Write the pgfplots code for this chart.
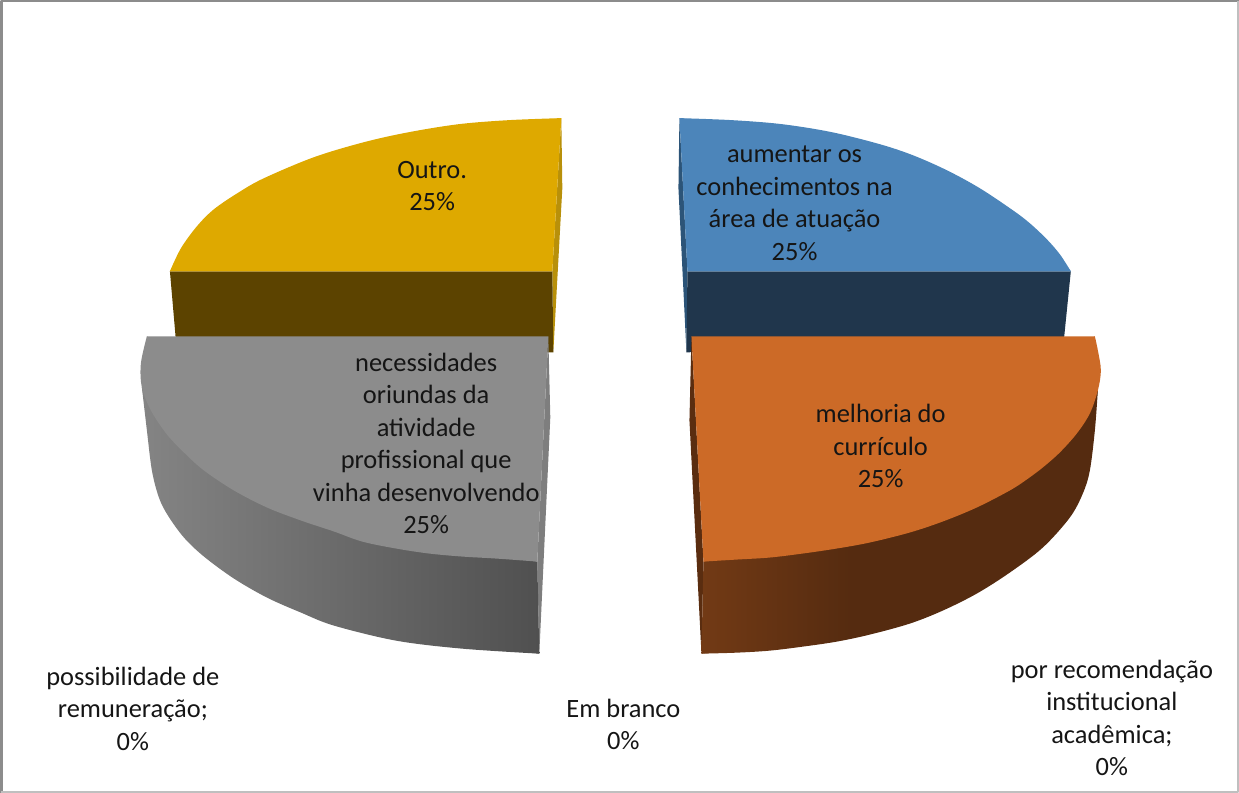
\documentclass[border=0pt]{standalone}
\usepackage{fontspec}
\setmainfont{Carlito}
\usepackage{pgfplots}
\pgfplotsset{compat=1.18}
\definecolor{goldT}{HTML}{DEA900}
\definecolor{goldS}{HTML}{5C4300}
\definecolor{goldI}{HTML}{B8900A}
\definecolor{blueT}{HTML}{4C85BA}
\definecolor{blueS}{HTML}{20364C}
\definecolor{blueI}{HTML}{2C5478}
\definecolor{greyT}{HTML}{8C8C8C}
\definecolor{greyI}{HTML}{7E7E7E}
\definecolor{greyL}{HTML}{848484}
\definecolor{greyR}{HTML}{505050}
\definecolor{orT}{HTML}{CC6A27}
\definecolor{orI}{HTML}{5A2D10}
\definecolor{orL}{HTML}{723A15}
\definecolor{orR}{HTML}{552B10}
\definecolor{txt}{HTML}{151515}
\pgfdeclarehorizontalshading{orshade}{100bp}{color(0bp)=(orL); color(25bp)=(orL); color(44bp)=(orR); color(100bp)=(orR)}
\tikzset{lab/.style={font=\fontsize{26.4}{32.4}\selectfont, align=center, text=txt, inner sep=0pt, anchor=center}}
\begin{document}
\begin{tikzpicture}
\begin{axis}[
  scale only axis, width=1239pt, height=792pt,
  xmin=0, xmax=1239, ymin=0, ymax=792, y dir=reverse,
  axis lines=none, clip=true,
  every axis plot/.append style={no markers, line join=round},
]
% frame
\addplot[color=black!45, line width=2.5pt] coordinates {(2.5,792) (2.5,1) (1239,1)};
\addplot[color=black!25, line width=1.5pt] coordinates {(2.5,791) (1238,791) (1238,1)};
% gold slice
\addplot[draw=none, fill=goldI] coordinates {(562,118) (563,188) (554,352) (553,271)} -- cycle;
\addplot[draw=none, fill=goldS] coordinates {(171,271) (553,271) (554,352) (178,352)} -- cycle;
\addplot[draw=none, fill=goldT] coordinates {(562,118) (410,136) (265,183) (203,228) (171,271) (553,271)} -- cycle;
\addplot[draw=none, fill=goldT, smooth, tension=0.55] coordinates {(562,118) (510,120) (460,124) (410,132) (365,142) (315,157) (265,178) (240,192) (215,209) (198,226) (182,248) (171,271)} -- cycle;
% blue slice
\addplot[draw=none, fill=blueI] coordinates {(680,118) (679,188) (687,352) (688,271)} -- cycle;
\addplot[draw=none, fill=blueS] coordinates {(688,271) (1071,271) (1064,340) (687,352)} -- cycle;
\addplot[draw=none, fill=blueT] coordinates {(680,118) (832,136) (978,192) (1043,241) (1071,271) (688,271)} -- cycle;
\addplot[draw=none, fill=blueT, smooth, tension=0.55] coordinates {(680,118) (732,120) (782,124) (832,132) (880,144) (913,155) (947,170) (980,188) (1013,210) (1030,223) (1047,239) (1060,254) (1071,271)} -- cycle;
% grey slice
\addplot[draw=none, fill=greyI] coordinates {(549,336) (551,417) (540,653) (538,561)} -- cycle;
\addplot[draw=none, left color=greyL, right color=greyR] coordinates {(143,387) (157,470) (189,533) (270,593) (397,636) (540,653) (538,561) (430,540) (200,440)} -- cycle;
\addplot[draw=none, left color=greyL, right color=greyR, smooth, tension=0.55] coordinates {(143,387) (148,430) (153,470) (160,497) (169,515) (185,537) (205,556) (235,578) (268,597) (302,612) (335,625) (397,640) (463,648) (540,653)} -- cycle;
\addplot[draw=none, fill=greyT] coordinates {(148,336) (549,336) (538,561) (397,544) (270,503) (172,431) (146,387)} -- cycle;
\addplot[draw=none, fill=greyT, smooth, tension=0.55] coordinates {(148,336) (142,363) (143,387) (152,410) (168,434) (185,452) (205,470) (235,490) (268,507) (302,520) (335,531) (363,541) (397,548) (430,553) (463,556) (497,558) (538,561)} -- cycle;
% orange slice
\addplot[draw=none, fill=orI] coordinates {(692,336) (690,420) (702,653) (704,561)} -- cycle;
\addplot[draw=none, shading=orshade] coordinates {(704,561) (702,653) (837,637) (973,591) (1065,515) (1091,430) (1098,390) (1000,470) (800,530)} -- cycle;
\addplot[draw=none, shading=orshade, smooth, tension=0.55] coordinates {(702,653) (737,652) (770,650) (803,646) (837,641) (870,634) (910,623) (943,610) (977,593) (1010,572) (1043,547) (1070,517) (1083,493) (1090,470) (1095,430) (1098,390)} -- cycle;
\addplot[draw=none, fill=orT] coordinates {(692,336) (1095,336) (1096,390) (1040,464) (908,529) (737,556) (704,561)} -- cycle;
\addplot[draw=none, fill=orT, smooth, tension=0.55] coordinates {(1095,336) (1098,350) (1101,370) (1098,390) (1090,413) (1077,433) (1060,452) (1043,467) (1027,479) (1010,490) (977,507) (943,521) (910,532) (870,542) (837,548) (803,553) (770,557) (737,559) (704,561)} -- cycle;
% labels
\node[lab] at (axis cs:433,186) {Outro.\\25\%};
\node[lab] at (axis cs:795,203) {aumentar os\\conhecimentos na\\área de atuação\\25\%};
\node[lab] at (axis cs:427,443) {necessidades\\oriundas da\\atividade\\profissional que\\vinha desenvolvendo\\25\%};
\node[lab] at (axis cs:881,445.5) {melhoria do\\currículo\\25\%};
\node[lab] at (axis cs:134,708) {possibilidade de\\remuneração;\\0\%};
\node[lab] at (axis cs:624,723.5) {Em branco\\0\%};
\node[lab] at (axis cs:1112,717) {por recomendação\\institucional\\acadêmica;\\0\%};
\end{axis}
\end{tikzpicture}
\end{document}
